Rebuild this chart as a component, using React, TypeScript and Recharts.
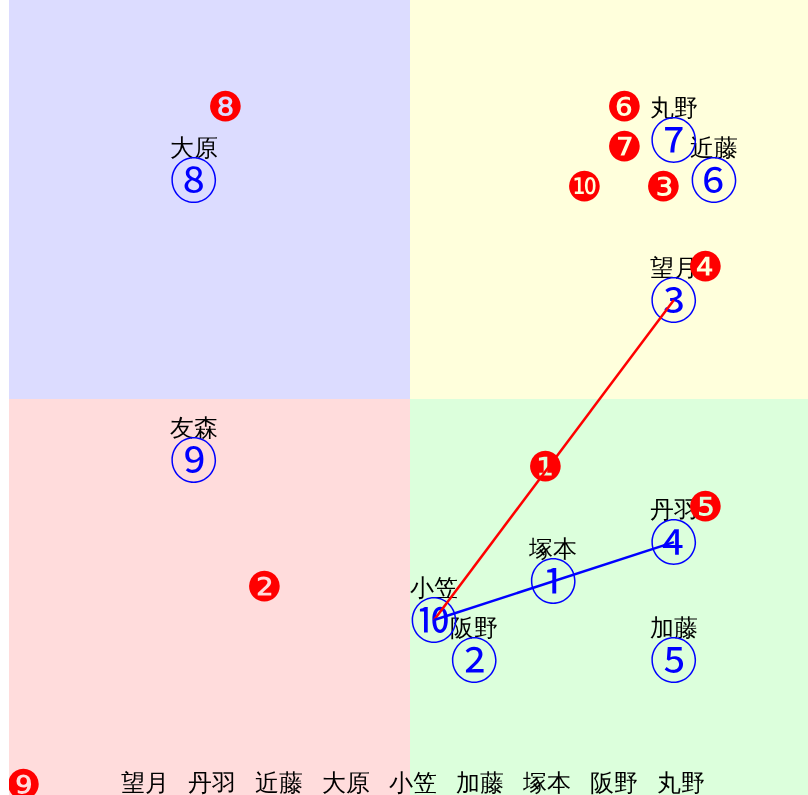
import React from 'react'
import {
  ScatterChart,
  Scatter,
  XAxis,
  YAxis,
  ReferenceArea
} from 'recharts'

// blue circled members
const names = ['塚本', '阪野', '望月', '丹羽', '加藤', '近藤', '丸野', '大原', '友森', '小笠']
const blueMarks = ['①', '②', '③', '④', '⑤', '⑥', '⑦', '⑧', '⑨', '⑩']
const blueX = [3.57, 1.6, 6.58, 6.58, 6.58, 7.58, 6.58, -5.39, -5.39, 0.6]
const blueY = [-4.54, -6.5, 2.47, -3.57, -6.5, 5.46, 6.46, 5.46, -1.52, -5.51]

// red filled marks
const redMarks = ['❶', '❷', '❸', '❹', '❺', '❻', '❼', '❽', '❾', '❿']
const redX = [3.37, -3.62, 6.33, 7.36, 7.36, 5.36, 5.36, -4.61, -9.63, 4.36]
const redY = [-1.7, -4.69, 5.29, 3.29, -2.69, 7.28, 6.28, 7.28, -9.63, 5.29]

// bottom row of names
const rowNames = ['望月', '丹羽', '近藤', '大原', '小笠', '加藤', '塚本', '阪野', '丸野']

// connections (indexes into blue points)
const redLink = [9, 2]
const blueLink = [9, 3]

const blueData = names.map((n, i) => ({ x: blueX[i], y: blueY[i], name: n, mark: blueMarks[i] }))
const redData = redMarks.map((m, i) => ({ x: redX[i], y: redY[i], mark: m }))
const redLineData = redLink.map((i) => blueData[i])
const blueLineData = blueLink.map((i) => blueData[i])

const BlueShape = (props: any) => {
  const { cx, cy, payload } = props
  return (
    <g>
      <text x={cx} y={cy - 32} textAnchor="middle" dominantBaseline="central" fontSize={24} fill="#000">
        {payload.name}
      </text>
      <text
        x={cx}
        y={cy - 3}
        textAnchor="middle"
        dominantBaseline="central"
        fontSize={48}
        fontFamily="'Noto Sans CJK JP'"
        fill="#0000ff"
      >
        {payload.mark}
      </text>
    </g>
  )
}

const RedShape = (props: any) => {
  const { cx, cy, payload } = props
  return (
    <text x={cx} y={cy} textAnchor="middle" dominantBaseline="central" fontSize={41} fill="#ff0000">
      {payload.mark}
    </text>
  )
}

const NoShape = () => <g />

export default function App() {
  return (
    <div style={{ position: 'fixed', left: 8, top: -3, width: 800, height: 798, overflow: 'hidden' }}>
      <ScatterChart width={804} height={804} margin={{ top: 1, right: 1, bottom: 1, left: 1 }}>
        <XAxis type="number" dataKey="x" domain={[-10, 10]} hide allowDataOverflow />
        <YAxis type="number" dataKey="y" domain={[-10, 10]} hide allowDataOverflow />
        <ReferenceArea x1={-10} x2={0} y1={0} y2={10} fill="#dcdcff" fillOpacity={1} />
        <ReferenceArea x1={0} x2={10} y1={0} y2={10} fill="#ffffdc" fillOpacity={1} />
        <ReferenceArea x1={-10} x2={0} y1={-10} y2={0} fill="#ffdcdc" fillOpacity={1} />
        <ReferenceArea x1={0} x2={10} y1={-10} y2={0} fill="#dcffdc" fillOpacity={1} />
        <Scatter data={blueData} shape={BlueShape} isAnimationActive={false} />
        <Scatter data={redData} shape={RedShape} isAnimationActive={false} />
        <Scatter data={redLineData} shape={NoShape} line={{ stroke: '#ff0000', strokeWidth: 2.5 }} isAnimationActive={false} />
        <Scatter data={blueLineData} shape={NoShape} line={{ stroke: '#0000ff', strokeWidth: 2.5 }} isAnimationActive={false} />
      </ScatterChart>
      <svg width={800} height={798} style={{ position: 'absolute', left: 0, top: 0, pointerEvents: 'none' }}>
        {rowNames.map((n, i) => (
          <text key={n} x={137 + i * 67} y={786} textAnchor="middle" dominantBaseline="central" fontSize={24} fill="#000">
            {n}
          </text>
        ))}
      </svg>
    </div>
  )
}
